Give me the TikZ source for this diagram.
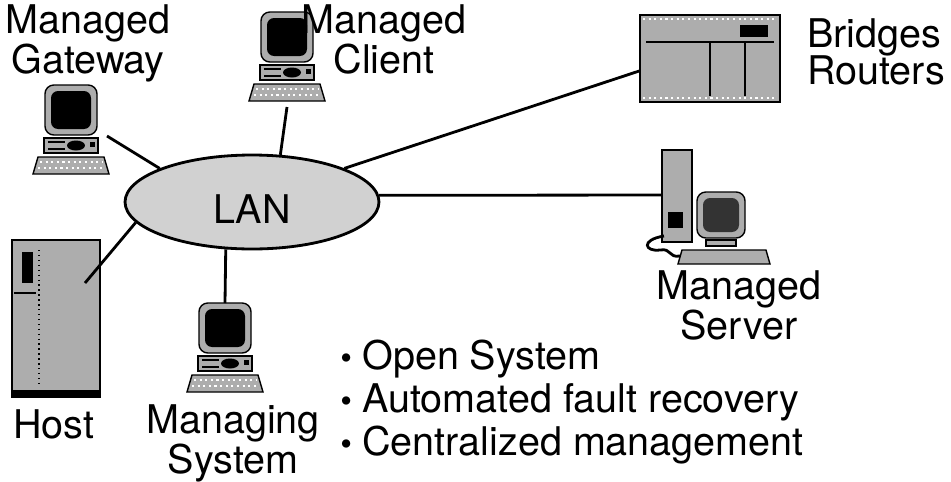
\documentclass[tikz,border=0pt]{standalone}
\usepackage{fontspec}
\setmainfont{TeX Gyre Heros}
\usetikzlibrary{shapes.geometric}

\newcommand{\bulletmark}{\makebox[12.5pt][l]{\raisebox{0.5pt}{\fontsize{19}{19}\selectfont\textbullet}}}

\begin{document}
\begin{tikzpicture}[x=0.02cm,y=-0.02cm]
\tikzset{
  lanlink/.style={line width=1.6pt},
  grayfill/.style={draw,line width=0.8pt,fill=black!32},
  devicelabel/.style={inner sep=0pt,align=center,font=\fontsize{22.5}{23}\selectfont},
  lanblob/.style={ellipse,draw,line width=1.6pt,fill=black!18,minimum width=5.08cm,
    minimum height=1.88cm,inner sep=0pt,text height=0.84cm,font=\fontsize{22.5}{23}\selectfont},
  workstation/.pic={
    % monitor
    \draw[grayfill,rounded corners=5pt] (-26,0) rectangle (26,50);
    \fill[rounded corners=4pt] (-20,6) rectangle (20,44);
    % system unit
    \draw[grayfill] (-27,53) rectangle (27,68);
    \draw[line width=0.6pt] (-23,57) -- (-6,57) (-23,64) -- (-6,64);
    \fill (5,60.5) ellipse [x radius=9,y radius=5];
    \fill (19,57) rectangle (24,62);
    % keyboard
    \draw[grayfill] (-33,72) -- (33,72) -- (38,89) -- (-38,89) -- cycle;
    \draw[white,line width=1pt,dash pattern=on 1.2pt off 2pt] (-31,77) -- (31,77) (-33,83) -- (33,83);
    \coordinate (-top) at (0,0);
    \coordinate (-right) at (36,51);
    \coordinate (-bottom) at (0,95);
  }
}
\useasboundingbox (0,0) rectangle (951,481);

% workstations
\pic (gw) at (71,85) {workstation};
\pic (client) at (287,12) {workstation};
\pic (mgr) at (225,303) {workstation};

% bridges / routers cabinet
\node[grayfill,minimum width=2.8cm,minimum height=1.74cm,inner sep=0pt] (bridge) at (710,58.5) {};
\draw[white,line width=1pt,dash pattern=on 1.2pt off 2pt] (643,19) -- (777,19) (643,98) -- (777,98);
\draw[line width=0.6pt] (646,42) -- (774,42) (710,42) -- (710,96) (745,42) -- (745,96);
\fill (740,25) rectangle (768,37);

% host tower
\draw[grayfill] (12,240) rectangle (100,397);
\fill (12,390) rectangle (100,398);
\fill (22,252) rectangle (33,283);
\draw[line width=0.6pt] (14,293) -- (36,293);
\draw[line width=0.8pt,dotted] (39,250) -- (39,385);
\coordinate (host-port) at (85,283);

% managed server
\draw[grayfill] (662,150) rectangle (692,242);
\fill (668,212) rectangle (683,228);
\draw[grayfill,rounded corners=5pt] (697,192) rectangle (745,238);
\fill[black!80,rounded corners=4pt] (703,198) rectangle (739,232);
\draw[grayfill] (706,240) rectangle (736,246);
\draw[grayfill] (682,250) -- (766,250) -- (770,264) -- (678,264) -- cycle;
\draw[line width=1.6pt] (664,236) .. controls (640,240) and (645,252) .. (660,250)
  .. controls (672,248) and (668,258) .. (680,256);
\coordinate (srv-left) at (662,195);

% the LAN
\node[lanblob] (lan) at (252,202) {LAN};

\draw[lanlink] (lan.160) -- (gw-right);
\draw[lanlink] (lan.59) -- (client-bottom);
\draw[lanlink] (lan.20) -- (bridge.190);
\draw[lanlink] (lan.3) -- (srv-left);
\draw[lanlink] (lan.190) -- (host-port);
\draw[lanlink] (lan.241) -- (mgr-top);

% labels
\node[devicelabel,anchor=north] (gwlabel) at (88,4) {Managed\\Gateway};
\node[devicelabel,anchor=north] (clientlabel) at (384,4) {Managed\\Client};
\node[devicelabel,anchor=north west,align=left,font=\fontsize{22.5}{21.5}\selectfont] (bridgelabel) at (807,18) {Bridges\\Routers};
\node[devicelabel,anchor=north] (srvlabel) at (739,270) {Managed\\Server};
\node[devicelabel,anchor=base west] (hostlabel) at (13,438) {Host};
\node[devicelabel,anchor=north] (mgrlabel) at (233,404) {Managing\\System};
\node[devicelabel,anchor=north west,align=left,font=\fontsize{22.5}{24.5}\selectfont] (features) at (340,340)
  {\bulletmark Open System\\ \bulletmark Automated fault recovery\\ \bulletmark Centralized management};
\end{tikzpicture}
\end{document}
